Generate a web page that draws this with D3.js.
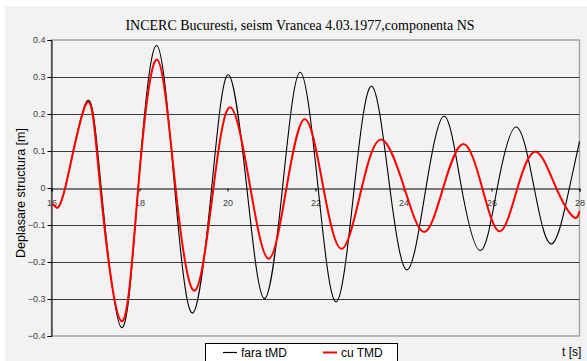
<!DOCTYPE html>
<html>
<head>
<meta charset="utf-8">
<script src="https://cdn.jsdelivr.net/npm/d3@7"></script>
<style>
  body { margin: 0; background: #fff; }
  svg text { font-family: "Liberation Sans", "DejaVu Sans", sans-serif; }
</style>
</head>
<body>
<div id="chart"></div>
<script>
// data (time [s], displacement [m])
const tFara = [16.0, 16.08, 16.31, 16.80, 17.13, 17.59, 17.97, 18.39, 18.80, 19.21, 19.64, 20.02, 20.44, 20.84, 21.25, 21.65, 22.06, 22.47, 22.88, 23.28, 23.69, 24.09, 24.51, 24.93, 25.32, 25.75, 26.13, 26.56, 26.97, 27.37, 27.77, 28.0];
const vFara = [-0.045, -0.049, 0, 0.234, 0, -0.377, 0, 0.385, 0, -0.338, 0, 0.306, 0, -0.299, 0, 0.313, 0, -0.308, 0, 0.275, 0, -0.221, 0, 0.194, 0, -0.169, 0, 0.165, 0, -0.151, 0, 0.126];

const tCu = [16.0, 16.08, 16.31, 16.80, 17.11, 17.59, 17.97, 18.40, 18.82, 19.26, 19.68, 20.07, 20.52, 20.94, 21.34, 21.76, 22.18, 22.60, 23.05, 23.50, 24.02, 24.47, 24.90, 25.36, 25.79, 26.19, 26.59, 27.01, 27.47, 27.86, 28.0];
const vCu = [-0.045, -0.049, 0, 0.230, 0, -0.360, 0, 0.347, 0, -0.277, 0, 0.218, 0, -0.191, 0, 0.186, 0, -0.164, 0, 0.131, 0, -0.119, 0, 0.119, 0, -0.117, 0, 0.098, 0, -0.078, -0.063];

const xTicks = [16, 18, 20, 22, 24, 26, 28];
const yTicks = [-0.4, -0.3, -0.2, -0.1, 0, 0.1, 0.2, 0.3, 0.4];
const seriesNames = ["fara tMD", "cu TMD"];

const W = 587, H = 361;

const svg = d3.select("#chart").append("svg")
    .attr("width", W)
    .attr("height", H);

// chart area background
svg.append("rect")
    .attr("x", 5).attr("y", 6)
    .attr("width", W - 5).attr("height", H - 6)
    .attr("fill", "#f2f2f2");

const x = d3.scaleLinear().domain([16, 28]).range([51.5, 579.5]);
const y = d3.scaleLinear().domain([-0.4, 0.4]).range([336, 40]);

// plot area border
svg.append("rect")
    .attr("x", x(16)).attr("y", y(0.4))
    .attr("width", x(28) - x(16)).attr("height", y(-0.4) - y(0.4))
    .attr("fill", "none")
    .attr("stroke", "#a6a6a6")
    .attr("stroke-width", 1.5);

// horizontal gridlines
svg.append("g")
    .selectAll("line")
    .data(yTicks.filter(d => d > -0.4 && d < 0.4 && d !== 0))
    .join("line")
    .attr("x1", x(16)).attr("x2", x(28))
    .attr("y1", d => Math.round(y(d)) + 0.5)
    .attr("y2", d => Math.round(y(d)) + 0.5)
    .attr("stroke", "#3a3a3a")
    .attr("stroke-width", 1);

// y axis
const yAxis = svg.append("g")
    .attr("transform", `translate(${Math.round(x(16)) - 0.5},0)`)
    .call(d3.axisLeft(y).tickValues(yTicks).tickSize(4).tickFormat(d => d === 0 ? "0" : d3.format(".1f")(d)));
yAxis.select(".domain").attr("stroke", "#000");
yAxis.selectAll(".tick line").attr("stroke", "#000");
yAxis.selectAll("text")
    .attr("font-size", 9)
    .attr("font-family", "'DejaVu Sans', sans-serif")
    .attr("fill", "#404040")
    .attr("x", -6);

// x axis at zero
const xAxis = svg.append("g")
    .attr("transform", `translate(0,${Math.round(y(0)) + 0.5})`)
    .call(d3.axisBottom(x).tickValues(xTicks).tickSize(3).tickFormat(d3.format("d")));
xAxis.select(".domain").attr("stroke", "#000");
xAxis.selectAll(".tick line").attr("stroke", "#000");
xAxis.selectAll("text")
    .attr("font-size", 9)
    .attr("font-family", "'DejaVu Sans', sans-serif")
    .attr("fill", "#404040")
    .attr("dy", "1.25em");

// lines
const line = d3.line()
    .x(d => x(d[0]))
    .y(d => y(d[1]))
    .curve(d3.curveNatural);

svg.append("path")
    .datum(d3.zip(tFara, vFara))
    .attr("d", line)
    .attr("fill", "none")
    .attr("stroke", "#000")
    .attr("stroke-width", 1.1);

svg.append("path")
    .datum(d3.zip(tCu, vCu))
    .attr("d", line)
    .attr("fill", "none")
    .attr("stroke", "#ff0000")
    .attr("stroke-width", 2);

// title
svg.append("text")
    .attr("x", 300).attr("y", 30)
    .attr("text-anchor", "middle")
    .style("font-family", "'Liberation Serif', serif")
    .attr("font-size", 14)
    .attr("fill", "#000")
    .text("INCERC Bucuresti, seism Vrancea 4.03.1977,componenta NS");

// y axis title
svg.append("text")
    .attr("transform", "translate(25,193) rotate(-90)")
    .attr("text-anchor", "middle")
    .attr("font-size", 12.5)
    .attr("fill", "#000")
    .text("Deplasare structura [m]");

// x axis title
svg.append("text")
    .attr("x", 562).attr("y", 356)
    .attr("font-size", 12)
    .attr("fill", "#000")
    .text("t [s]");

// legend
const legend = svg.append("g");
legend.append("rect")
    .attr("x", 205.5).attr("y", 343.5)
    .attr("width", 192).attr("height", 22)
    .attr("fill", "#fff")
    .attr("stroke", "#000");

const legendColors = ["#000", "#ff0000"];
const legendX = [223, 323];
seriesNames.forEach((name, i) => {
    legend.append("line")
        .attr("x1", legendX[i]).attr("x2", legendX[i] + 14)
        .attr("y1", 352.5).attr("y2", 352.5)
        .attr("stroke", legendColors[i])
        .attr("stroke-width", i === 0 ? 1.2 : 2);
    legend.append("text")
        .attr("x", legendX[i] + 18).attr("y", 357)
        .attr("font-size", 12)
        .attr("fill", "#000")
        .text(name);
});
</script>
</body>
</html>
